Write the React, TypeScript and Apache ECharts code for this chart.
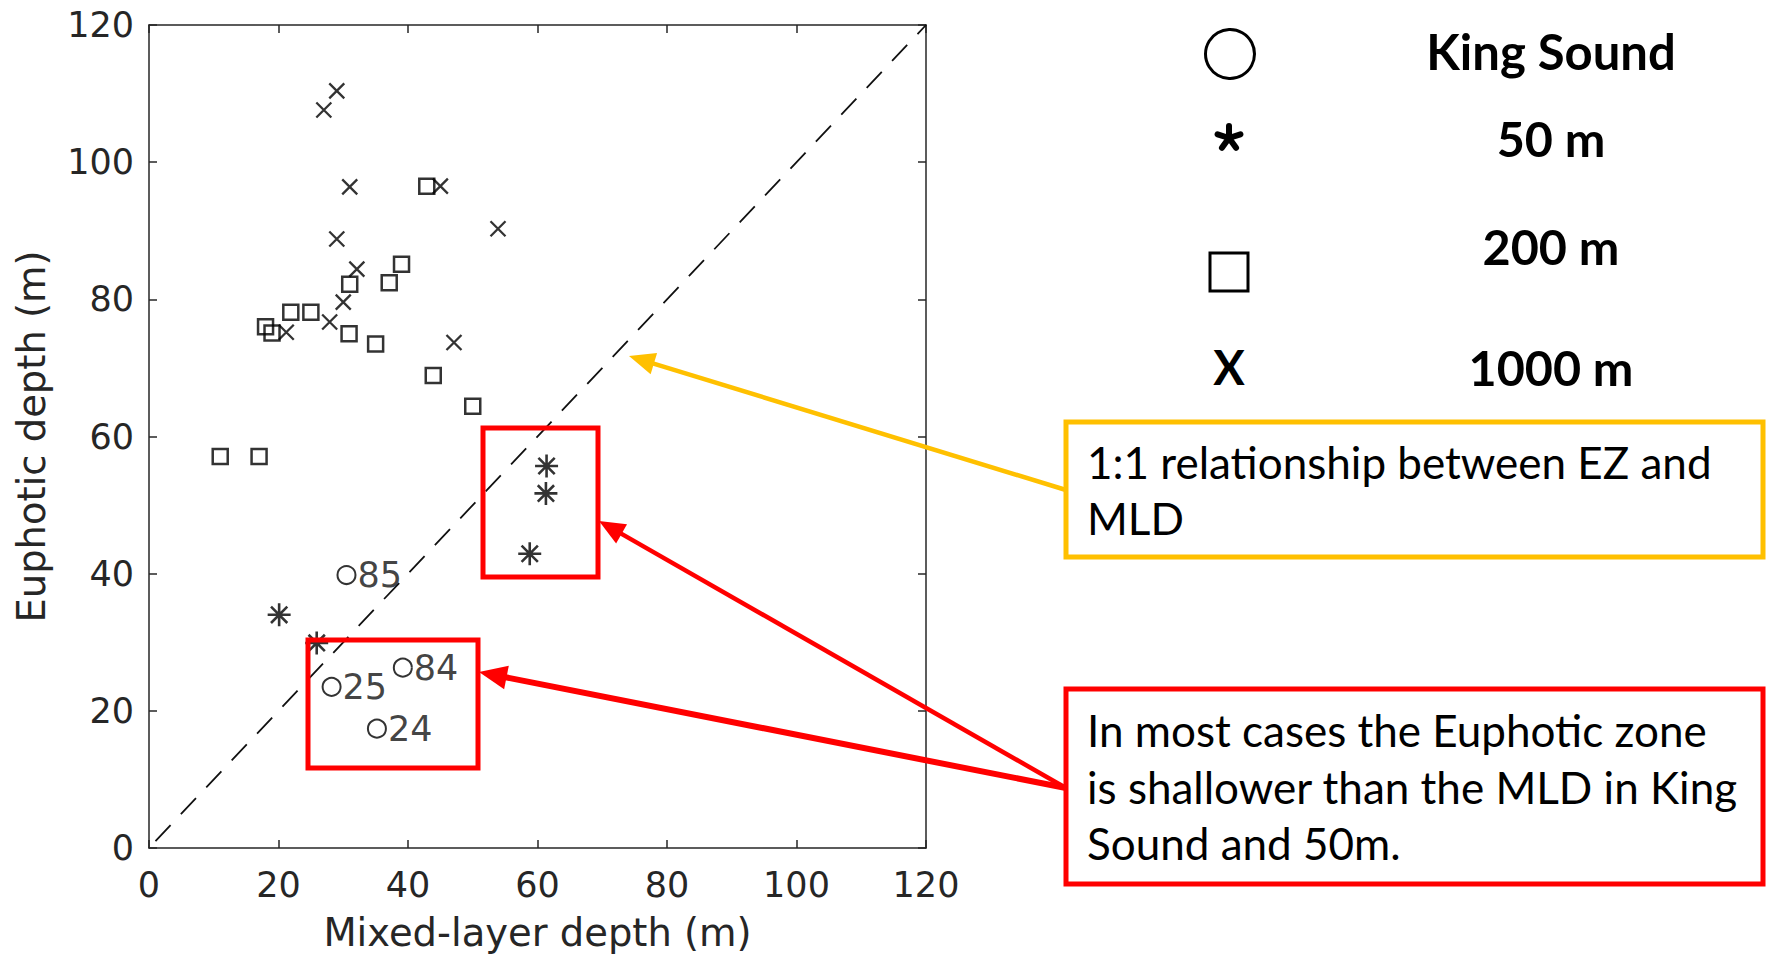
import React, { useEffect, useRef } from "react";
import * as echarts from "echarts";

// ---- Data ----
const kingSoundPoints: number[][] = [
  [30.5, 39.8],
  [28.2, 23.5],
  [39.2, 26.3],
  [35.2, 17.4],
];
const kingSoundLabels: string[] = ["85", "25", "84", "24"];

const site50m: number[][] = [
  [61.4, 55.7],
  [61.3, 51.7],
  [58.8, 42.9],
  [20.1, 34.0],
  [25.9, 29.9],
];

const site200m: number[][] = [
  [42.9, 96.5],
  [39.0, 85.1],
  [37.1, 82.4],
  [31.0, 82.2],
  [21.9, 78.1],
  [25.0, 78.1],
  [18.0, 76.0],
  [19.0, 75.1],
  [30.9, 75.0],
  [35.0, 73.5],
  [43.9, 68.9],
  [50.0, 64.4],
  [11.0, 57.1],
  [17.0, 57.1],
];

const site1000m: number[][] = [
  [27.0, 107.6],
  [29.0, 110.4],
  [31.0, 96.4],
  [45.0, 96.5],
  [53.9, 90.3],
  [29.0, 88.8],
  [32.1, 84.4],
  [30.0, 79.6],
  [27.9, 76.7],
  [21.2, 75.2],
  [47.1, 73.7],
];

const oneToOneLine: number[][] = [
  [1, 1],
  [120, 120],
];

const axisMin = 0;
const axisMax = 120;
const axisInterval = 20;

const legendItems: string[] = ["King Sound", "50 m", "200 m", "1000 m"];
const noteOneLines: string[] = ["1:1 relationship between EZ and", "MLD"];
const noteTwoLines: string[] = [
  "In most cases the Euphotic zone",
  "is shallower than the MLD in King",
  "Sound and 50m.",
];

// ---- Styles ----
const AXIS_COLOR = "#262626";
const YELLOW = "#FFC000";
const RED = "#FF0000";
const MAIN_FONT = "'DejaVu Sans', sans-serif";
const NOTE_FONT = "Lato, 'Open Sans', sans-serif";

function arrow(
  x1: number,
  y1: number,
  x2: number,
  y2: number,
  color: string,
  w: number,
  headLen: number,
  headHalf: number
) {
  const dx = x2 - x1;
  const dy = y2 - y1;
  const L = Math.hypot(dx, dy);
  const ux = dx / L;
  const uy = dy / L;
  const bx = x2 - ux * headLen;
  const by = y2 - uy * headLen;
  const px = -uy;
  const py = ux;
  return [
    {
      type: "line",
      shape: { x1, y1, x2: bx + ux * 2, y2: by + uy * 2 },
      style: { stroke: color, lineWidth: w },
      z: 100,
    },
    {
      type: "polygon",
      shape: {
        points: [
          [x2, y2],
          [bx + px * headHalf, by + py * headHalf],
          [bx - px * headHalf, by - py * headHalf],
        ],
      },
      style: { fill: color },
      z: 100,
    },
  ];
}

// bold 5-armed asterisk for the legend
function legendAsterisk(cx: number, cy: number, r: number, w: number) {
  const arms: any[] = [];
  for (let k = 0; k < 5; k++) {
    const a = (-90 + k * 72) * (Math.PI / 180);
    arms.push({
      type: "line",
      shape: { x1: cx, y1: cy, x2: cx + Math.cos(a) * r, y2: cy + Math.sin(a) * r },
      style: { stroke: "#000", lineWidth: w, lineCap: "round" },
      z: 90,
    });
  }
  return arms;
}

const X_PATH = "path://M0,0L10,10M10,0L0,10";
const STAR_PATH =
  "path://M5,0L5,10M0,5L10,5M1.46,1.46L8.54,8.54M8.54,1.46L1.46,8.54";

export default function App() {
  const ref = useRef<HTMLDivElement>(null);

  useEffect(() => {
    if (!ref.current) return;
    const chart = echarts.init(ref.current, undefined, { renderer: "svg" });

    const baseAxis = {
      min: axisMin,
      max: axisMax,
      interval: axisInterval,
      splitLine: { show: false },
      axisLine: { show: true, onZero: false, lineStyle: { color: AXIS_COLOR, width: 1.5 } },
      axisTick: { show: true, inside: true, length: 8, lineStyle: { color: AXIS_COLOR, width: 1.5 } },
    };

    const legendX = 1229;
    const legendTextX = 1551;
    const legendYs = [51, 138, 246, 367];

    const graphic: any[] = [
      // plot annotation boxes
      { type: "rect", shape: { x: 483, y: 428, width: 115, height: 149 }, style: { fill: "none", stroke: RED, lineWidth: 5 }, z: 90 },
      { type: "rect", shape: { x: 308, y: 640, width: 170, height: 128 }, style: { fill: "none", stroke: RED, lineWidth: 5 }, z: 90 },
      // note boxes
      { type: "rect", shape: { x: 1066, y: 422, width: 697, height: 135 }, style: { fill: "#fff", stroke: YELLOW, lineWidth: 5 }, z: 90 },
      { type: "rect", shape: { x: 1066, y: 689, width: 697, height: 195 }, style: { fill: "#fff", stroke: RED, lineWidth: 5 }, z: 90 },
      ...arrow(1066, 490, 629, 356, YELLOW, 4.5, 26, 11),
      ...arrow(1066, 788, 599, 521, RED, 4.5, 26, 11),
      ...arrow(1066, 788, 479, 672, RED, 6, 28, 12),
      // legend symbols
      { type: "circle", shape: { cx: legendX + 1, cy: 54, r: 24.5 }, style: { fill: "none", stroke: "#000", lineWidth: 3 }, z: 90 },
      ...legendAsterisk(legendX, 138, 12, 6),
      { type: "rect", shape: { x: legendX - 19, y: 253, width: 38, height: 38 }, style: { fill: "none", stroke: "#000", lineWidth: 3 }, z: 90 },
      {
        type: "text", x: legendX, y: 367,
        style: { text: "X", fill: "#000", font: `bold 47px ${NOTE_FONT}`, align: "center", verticalAlign: "middle" }, z: 90,
      },
      ...legendItems.map((t, i) => ({
        type: "text",
        x: legendTextX,
        y: legendYs[i],
        style: {
          text: t,
          fill: "#000",
          font: `bold ${i === 0 ? 49 : 48.5}px ${NOTE_FONT}`,
          align: "center",
          verticalAlign: "middle",
        },
        z: 90,
      })),
      ...noteOneLines.map((t, i) => ({
        type: "text",
        x: 1087,
        y: 462 + i * 56,
        style: { text: t, fill: "#000", font: `44px ${NOTE_FONT}`, align: "left", verticalAlign: "middle" },
        z: 95,
      })),
      ...noteTwoLines.map((t, i) => ({
        type: "text",
        x: 1087,
        y: 730 + i * 56.5,
        style: { text: t, fill: "#000", font: `44px ${NOTE_FONT}`, align: "left", verticalAlign: "middle" },
        z: 95,
      })),
    ];

    chart.setOption({
      animation: false,
      backgroundColor: "#fff",
      textStyle: { fontFamily: MAIN_FONT },
      grid: {
        left: 149,
        top: 25,
        width: 777,
        height: 823,
        containLabel: false,
        outerBoundsMode: "none",
      },
      xAxis: [
        {
          ...baseAxis,
          type: "value",
          position: "bottom",
          name: "Mixed-layer depth (m)",
          nameLocation: "middle",
          nameGap: 65,
          nameTextStyle: { fontSize: 38.5, color: AXIS_COLOR, fontFamily: MAIN_FONT },
          axisLabel: { fontSize: 35, color: AXIS_COLOR, margin: 19, fontFamily: MAIN_FONT },
        },
        {
          ...baseAxis,
          type: "value",
          position: "top",
          axisLabel: { show: false },
        },
      ],
      yAxis: [
        {
          ...baseAxis,
          type: "value",
          position: "left",
          name: "Euphotic depth (m)",
          nameLocation: "middle",
          nameGap: 98,
          nameTextStyle: { fontSize: 38.5, color: AXIS_COLOR, fontFamily: MAIN_FONT },
          axisLabel: { fontSize: 35, color: AXIS_COLOR, margin: 15, fontFamily: MAIN_FONT },
        },
        {
          ...baseAxis,
          type: "value",
          position: "right",
          axisLabel: { show: false },
        },
      ],
      series: [
        {
          type: "line",
          data: oneToOneLine,
          showSymbol: false,
          symbol: "none",
          lineStyle: { color: "#111", width: 1.8, type: [22, 15] },
          z: 1,
        },
        {
          type: "scatter",
          name: "King Sound",
          data: kingSoundPoints.map((p, i) => ({ value: p, name: kingSoundLabels[i] })),
          symbol: "circle",
          symbolSize: 18,
          itemStyle: { color: "rgba(0,0,0,0)", borderColor: "#000", borderWidth: 2 },
          label: {
            show: true,
            position: "right",
            distance: 1,
            formatter: (p: any) => p.name,
            fontSize: 35,
            color: "#111",
            fontFamily: MAIN_FONT,
          },
          z: 3,
        },
        {
          type: "scatter",
          name: "50 m",
          data: site50m,
          symbol: STAR_PATH,
          symbolSize: 23,
          itemStyle: { color: "rgba(0,0,0,0)", borderColor: "#000", borderWidth: 2.6 },
          z: 3,
        },
        {
          type: "scatter",
          name: "200 m",
          data: site200m,
          symbol: "rect",
          symbolSize: 15,
          itemStyle: { color: "rgba(0,0,0,0)", borderColor: "#000", borderWidth: 2.5 },
          z: 3,
        },
        {
          type: "scatter",
          name: "1000 m",
          data: site1000m,
          symbol: X_PATH,
          symbolSize: 15,
          itemStyle: { color: "rgba(0,0,0,0)", borderColor: "#000", borderWidth: 2.3 },
          z: 3,
        },
      ],
      graphic,
    });

    return () => chart.dispose();
  }, []);

  return (
    <div
      ref={ref}
      style={{ position: "fixed", left: 0, top: 0, width: 1770, height: 954, background: "#fff" }}
    />
  );
}
